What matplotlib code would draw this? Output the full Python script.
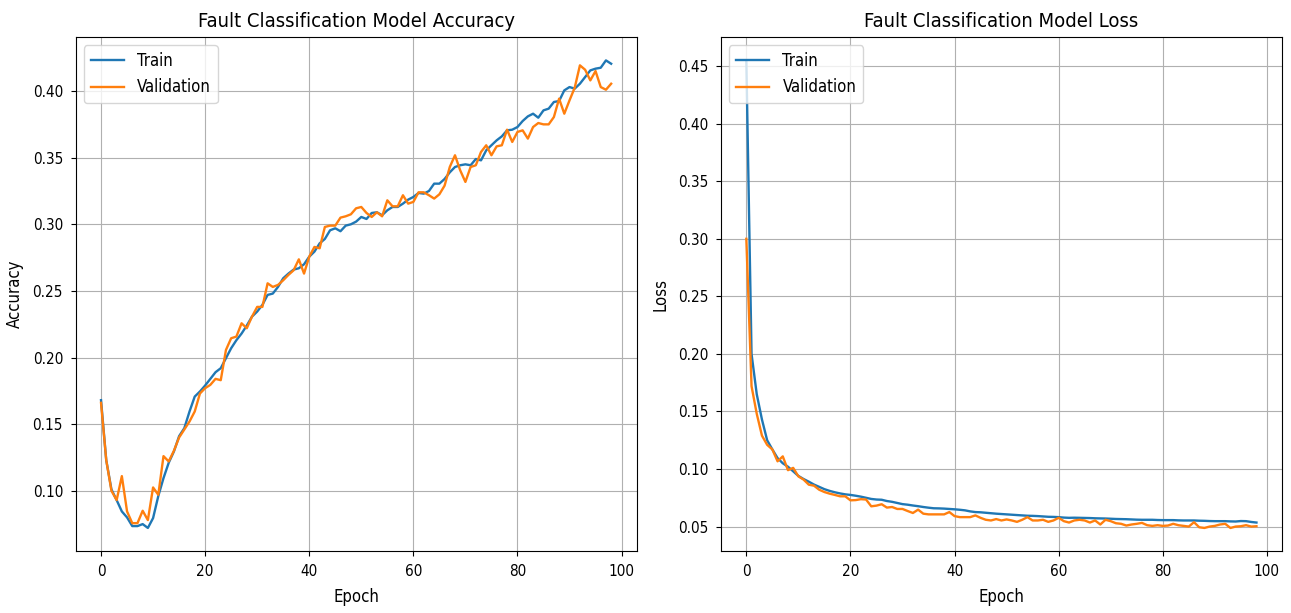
import matplotlib
matplotlib.use("Agg")
import matplotlib.pyplot as plt

# Per-epoch values (epochs 0..98)
train_acc = [
    0.168, 0.123, 0.101, 0.093, 0.0845, 0.080, 0.0735, 0.0735, 0.075, 0.0721,
    0.0795, 0.096, 0.1095, 0.121, 0.1295, 0.141, 0.147, 0.1595, 0.1707, 0.1745,
    0.179, 0.184, 0.189, 0.192, 0.1995, 0.207, 0.213, 0.218, 0.224, 0.2307,
    0.2345, 0.2395, 0.247, 0.248, 0.253, 0.2595, 0.263, 0.266, 0.267, 0.270,
    0.2757, 0.2795, 0.2857, 0.289, 0.2955, 0.297, 0.2948, 0.299, 0.300, 0.302,
    0.3055, 0.304, 0.3085, 0.309, 0.3068, 0.3105, 0.313, 0.313, 0.3155, 0.3185,
    0.3205, 0.3235, 0.323, 0.325, 0.3305, 0.3305, 0.334, 0.339, 0.343, 0.3443,
    0.345, 0.3443, 0.349, 0.348, 0.3555, 0.3593, 0.363, 0.366, 0.3705, 0.371,
    0.373, 0.3775, 0.381, 0.383, 0.380, 0.3855, 0.3868, 0.3918, 0.3925, 0.4005,
    0.403, 0.4018, 0.4055, 0.4105, 0.4155, 0.4168, 0.4175, 0.423, 0.4205,
]
val_acc = [
    0.166, 0.123, 0.100, 0.093, 0.111, 0.0845, 0.0757, 0.0757, 0.085, 0.078,
    0.1025, 0.097, 0.126, 0.122, 0.130, 0.140, 0.146, 0.152, 0.1595, 0.173,
    0.177, 0.1795, 0.184, 0.183, 0.2057, 0.2145, 0.2157, 0.2257, 0.222, 0.2307,
    0.238, 0.238, 0.2557, 0.253, 0.2545, 0.258, 0.262, 0.2655, 0.2737, 0.263,
    0.2757, 0.283, 0.282, 0.298, 0.299, 0.299, 0.305, 0.306, 0.3075, 0.312,
    0.313, 0.3085, 0.3055, 0.309, 0.306, 0.318, 0.3135, 0.3135, 0.3218, 0.3155,
    0.3168, 0.324, 0.324, 0.3218, 0.3193, 0.3225, 0.329, 0.343, 0.3518, 0.3405,
    0.3318, 0.343, 0.3443, 0.3543, 0.3593, 0.3518, 0.3585, 0.3593, 0.371, 0.3618,
    0.3693, 0.3705, 0.3643, 0.373, 0.376, 0.375, 0.375, 0.3805, 0.3943, 0.383,
    0.393, 0.4025, 0.4193, 0.416, 0.408, 0.415, 0.403, 0.401, 0.4055,
]
train_loss = [
    0.455, 0.200, 0.165, 0.143, 0.125, 0.117, 0.1095, 0.105, 0.102, 0.098,
    0.094, 0.0913, 0.089, 0.0865, 0.0845, 0.0825, 0.081, 0.0798, 0.0788, 0.078,
    0.0775, 0.0768, 0.076, 0.075, 0.074, 0.0735, 0.0733, 0.0722, 0.0715, 0.0705,
    0.0695, 0.069, 0.0683, 0.0677, 0.067, 0.0664, 0.0659, 0.0658, 0.0656, 0.0653,
    0.065, 0.0646, 0.0641, 0.0632, 0.0626, 0.0624, 0.062, 0.0616, 0.0612, 0.0609,
    0.0606, 0.0603, 0.060, 0.0597, 0.0594, 0.0593, 0.0591, 0.0588, 0.0585, 0.0584,
    0.0582, 0.0578, 0.0576, 0.0577, 0.0576, 0.0575, 0.0574, 0.0572, 0.0571, 0.057,
    0.0568, 0.0566, 0.0565, 0.0564, 0.0562, 0.056, 0.0559, 0.0559, 0.0559, 0.0557,
    0.0556, 0.0556, 0.0556, 0.0554, 0.0553, 0.0553, 0.0553, 0.0551, 0.055, 0.0548,
    0.0547, 0.0547, 0.0547, 0.0545, 0.0544, 0.0548, 0.0547, 0.054, 0.0535,
]
val_loss = [
    0.300, 0.172, 0.148, 0.129, 0.121, 0.117, 0.1067, 0.111, 0.099, 0.101,
    0.0936, 0.0908, 0.0864, 0.0855, 0.082, 0.080, 0.0786, 0.0775, 0.0763, 0.0763,
    0.0728, 0.073, 0.0738, 0.0735, 0.0676, 0.0682, 0.0694, 0.0665, 0.067, 0.0653,
    0.0653, 0.0635, 0.0618, 0.0647, 0.0612, 0.0606, 0.0606, 0.0606, 0.0606, 0.0626,
    0.0591, 0.0582, 0.0582, 0.0582, 0.0597, 0.0576, 0.0559, 0.0553, 0.0565, 0.0553,
    0.0562, 0.0553, 0.0541, 0.0559, 0.0582, 0.0553, 0.0553, 0.0559, 0.0541, 0.0553,
    0.0576, 0.0547, 0.0535, 0.0553, 0.0559, 0.0553, 0.0535, 0.0553, 0.0518, 0.0559,
    0.0547, 0.0529, 0.0524, 0.0509, 0.0518, 0.0524, 0.0532, 0.0512, 0.0506, 0.0512,
    0.0506, 0.0509, 0.0524, 0.0512, 0.0506, 0.050, 0.0538, 0.0494, 0.0488, 0.050,
    0.0506, 0.0518, 0.0524, 0.0488, 0.050, 0.0503, 0.0512, 0.050, 0.0503,
]

epochs = list(range(len(train_acc)))

# the reference text looks slightly tall and narrow, so use the condensed face
plt.rcParams["font.family"] = "DejaVu Sans"
plt.rcParams["font.stretch"] = "condensed"
plt.rcParams["font.size"] = 12
plt.rcParams["xtick.labelsize"] = 11
plt.rcParams["ytick.labelsize"] = 11
plt.rcParams["xtick.major.pad"] = 5.5
plt.rcParams["ytick.major.pad"] = 5.5

fig, (ax1, ax2) = plt.subplots(1, 2, figsize=(12.91, 6.13), dpi=100)
fig.subplots_adjust(left=0.0585, right=0.993, bottom=0.1006, top=0.9396, wspace=0.150)

panels = [
    (ax1, train_acc, val_acc, "Fault Classification Model Accuracy", "Accuracy"),
    (ax2, train_loss, val_loss, "Fault Classification Model Loss", "Loss"),
]
for ax, train, val, title, ylabel in panels:
    ax.plot(epochs, train, label="Train", linewidth=1.7)
    ax.plot(epochs, val, label="Validation", linewidth=1.7)
    ax.set_title(title, fontsize=14.5, pad=7)
    ax.set_xlabel("Epoch", labelpad=6.5)
    ax.set_ylabel(ylabel, labelpad=6)
    ax.legend(loc="upper left")
    ax.grid(True)

fig.savefig("out.png", dpi=100)
plt.close(fig)
